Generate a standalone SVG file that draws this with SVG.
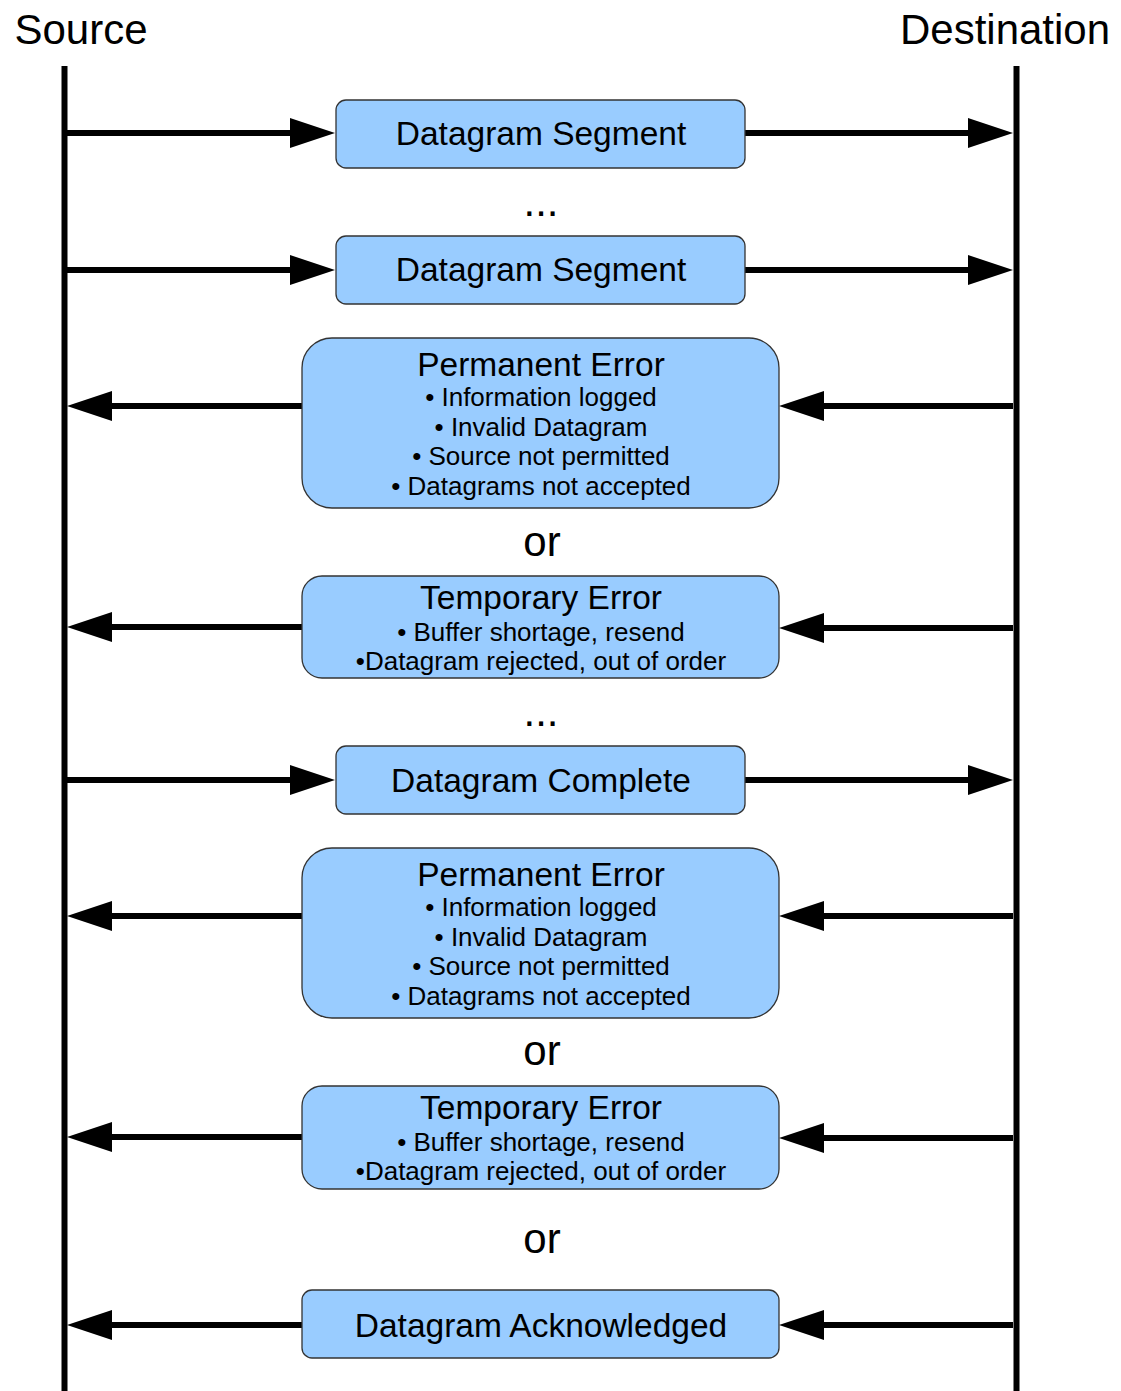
<svg xmlns="http://www.w3.org/2000/svg" width="1121" height="1391" viewBox="0 0 1121 1391">
<style>
text{font-family:"Liberation Sans",Arial,sans-serif;fill:#000;text-anchor:middle}
.lbl{font-size:42px}
.t{font-size:33.5px}
.b{font-size:26px}
.box{fill:#99ccff;stroke:#333;stroke-width:1.3}
.life{stroke:#000;stroke-width:6;fill:none}
.arr{stroke:#000;stroke-width:6;fill:none;marker-end:url(#ah)}
</style>
<defs>
<marker id="ah" viewBox="0 0 45 30" refX="15" refY="15" markerWidth="45" markerHeight="30" markerUnits="userSpaceOnUse" orient="auto">
<path d="M0,0 L45,15 L0,30 z" fill="#000"/>
</marker>
</defs>
<rect width="1121" height="1391" fill="#fff"/>
<g id="source"><text class="lbl" x="81" y="44">Source</text><line class="life" x1="64.5" y1="66" x2="64.5" y2="1391"/></g>
<g id="destination"><text class="lbl" x="1005" y="44">Destination</text><line class="life" x1="1016.5" y1="66" x2="1016.5" y2="1391"/></g>
<g id="connectors">
<line class="arr" x1="67" y1="133" x2="305" y2="133"/>
<line class="arr" x1="745" y1="133" x2="983" y2="133"/>
<line class="arr" x1="67" y1="270" x2="305" y2="270"/>
<line class="arr" x1="745" y1="270" x2="983" y2="270"/>
<line class="arr" x1="302" y1="406" x2="97" y2="406"/>
<line class="arr" x1="1013" y1="406" x2="809" y2="406"/>
<line class="arr" x1="302" y1="627" x2="97" y2="627"/>
<line class="arr" x1="1013" y1="628" x2="809" y2="628"/>
<line class="arr" x1="67" y1="780" x2="305" y2="780"/>
<line class="arr" x1="745" y1="780" x2="983" y2="780"/>
<line class="arr" x1="302" y1="916" x2="97" y2="916"/>
<line class="arr" x1="1013" y1="916" x2="809" y2="916"/>
<line class="arr" x1="302" y1="1137" x2="97" y2="1137"/>
<line class="arr" x1="1013" y1="1138" x2="809" y2="1138"/>
<line class="arr" x1="302" y1="1325" x2="97" y2="1325"/>
<line class="arr" x1="1013" y1="1325" x2="809" y2="1325"/>
</g>
<g id="seg1"><rect class="box" x="336" y="100" width="409" height="68" rx="10"/><text class="t" x="541" y="145">Datagram Segment</text></g>
<text class="lbl" x="541" y="216">...</text>
<g id="seg2"><rect class="box" x="336" y="236" width="409" height="68" rx="10"/><text class="t" x="541" y="281">Datagram Segment</text></g>
<g id="perm1"><rect class="box" x="302" y="338" width="477" height="170" rx="30"/>
<text class="t" x="541" y="376">Permanent Error</text>
<text class="b" x="541" y="406">• Information logged</text>
<text class="b" x="541" y="436">• Invalid Datagram</text>
<text class="b" x="541" y="465">• Source not permitted</text>
<text class="b" x="541" y="495">• Datagrams not accepted</text></g>
<text class="lbl" x="542" y="556">or</text>
<g id="temp1"><rect class="box" x="302" y="576" width="477" height="102" rx="20"/>
<text class="t" x="541" y="609">Temporary Error</text>
<text class="b" x="541" y="641">• Buffer shortage, resend</text>
<text class="b" x="541" y="670">•Datagram rejected, out of order</text></g>
<text class="lbl" x="541" y="726">...</text>
<g id="complete"><rect class="box" x="336" y="746" width="409" height="68" rx="10"/><text class="t" x="541" y="792">Datagram Complete</text></g>
<g id="perm2"><rect class="box" x="302" y="848" width="477" height="170" rx="30"/>
<text class="t" x="541" y="886">Permanent Error</text>
<text class="b" x="541" y="916">• Information logged</text>
<text class="b" x="541" y="946">• Invalid Datagram</text>
<text class="b" x="541" y="975">• Source not permitted</text>
<text class="b" x="541" y="1005">• Datagrams not accepted</text></g>
<text class="lbl" x="542" y="1065">or</text>
<g id="temp2"><rect class="box" x="302" y="1086" width="477" height="103" rx="20"/>
<text class="t" x="541" y="1119">Temporary Error</text>
<text class="b" x="541" y="1151">• Buffer shortage, resend</text>
<text class="b" x="541" y="1180">•Datagram rejected, out of order</text></g>
<text class="lbl" x="542" y="1253">or</text>
<g id="ack"><rect class="box" x="302" y="1290" width="477" height="68" rx="10"/><text class="t" x="541" y="1337">Datagram Acknowledged</text></g>
</svg>
